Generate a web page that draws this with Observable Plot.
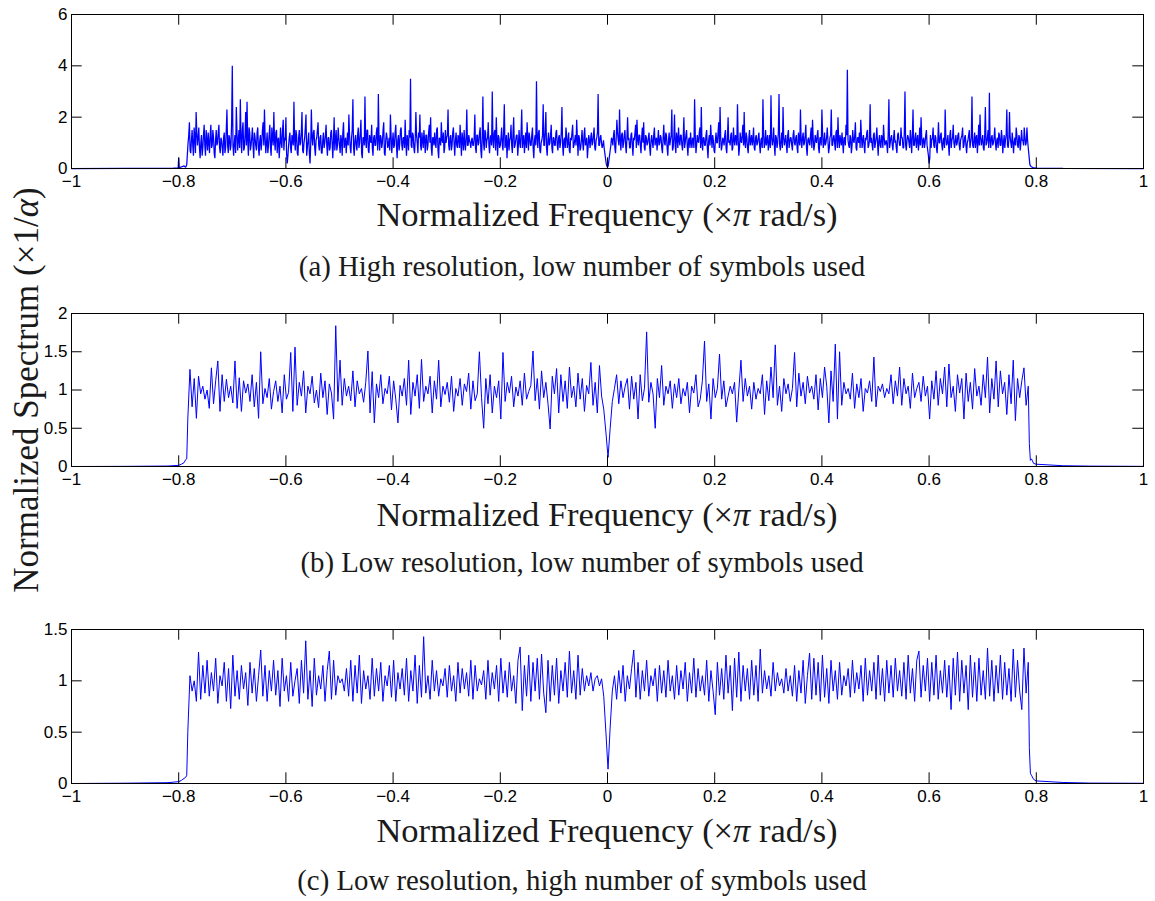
<!DOCTYPE html>
<html>
<head>
<meta charset="utf-8">
<script src="https://cdn.jsdelivr.net/npm/d3@7"></script>
<script src="https://cdn.jsdelivr.net/npm/@observablehq/plot@0.6"></script>
<style>
  html, body { margin: 0; padding: 0; background: #fff; }
  #fig { position: relative; width: 1155px; height: 901px; background: #fff; overflow: hidden; }
  .panel { position: absolute; left: 0; }
  #overlay { position: absolute; left: 0; top: 0; pointer-events: none; }
  #overlay text { font-family: "Liberation Serif", "Times New Roman", serif; fill: #1a1a1a; }
</style>
</head>
<body>
<div id="fig"></div>
<script>
// ---------------- data ----------------
const xTicks = [-1, -0.8, -0.6, -0.4, -0.2, 0, 0.2, 0.4, 0.6, 0.8, 1];
const aTicksY = [0, 2, 4, 6];
const bTicksY = [0, 0.5, 1, 1.5, 2];
const cTicksY = [0, 0.5, 1, 1.5];

const xLabel = "Normalized Frequency";
const yLabel = "Normalized Spectrum";
const captions = [
  "(a) High resolution, low number of symbols used",
  "(b) Low resolution, low number of symbols used",
  "(c) Low resolution, high number of symbols used"
];

// (a) high resolution, low number of symbols
const aLowF = [-1, -0.9, -0.81, -0.801, -0.8, -0.799, -0.795, -0.79, -0.787, -0.785];
const aLowV = [0, 0.003, 0.01, 0.02, 0.42, 0.03, 0.06, 0.1, 0.05, 0.15];
const aBandFrom = -0.7825, aBandTo = 0.785;
// samples on the main grid
const aBand = [
1.0,1.8,0.6,1.5,0.5,1.2,2.2,0.9,1.6,0.4,1.3,0.8,1.7,0.5,1.1,1.4,0.6,1.7,0.9,1.2,0.4,1.5,1.0,1.7,0.6,
1.1,0.5,1.4,0.8,2.3,0.6,1.2,0.9,4.0,0.5,1.3,2.4,0.7,1.5,2.7,0.6,1.8,0.8,2.2,2.6,0.5,1.4,0.9,1.6,0.4,
1.2,0.7,1.6,0.5,1.3,1.0,1.8,2.3,0.6,1.4,0.9,1.7,0.5,1.2,2.2,0.7,1.5,1.1,0.4,1.6,0.8,1.9,1.2,2.0,0.2,
0.9,1.4,0.6,1.1,2.6,0.7,1.3,0.5,1.5,1.0,2.2,0.6,1.2,2.1,0.8,1.4,0.2,2.3,0.9,1.5,0.5,1.2,1.8,0.7,1.3,
0.6,1.4,1.0,1.7,0.5,1.2,0.8,1.5,0.4,2.0,1.1,0.7,1.6,0.9,1.3,0.5,1.8,1.0,0.6,1.4,2.1,0.8,1.2,2.7,0.5,
1.3,0.7,1.6,1.0,1.9,0.4,1.2,2.8,0.8,1.5,0.6,1.1,1.7,0.5,1.3,0.9,1.6,2.9,0.7,1.2,1.0,1.8,0.5,1.4,0.8,
1.2,2.1,0.6,1.4,0.9,1.7,0.4,1.3,1.0,1.6,0.7,1.2,1.9,0.5,1.1,1.5,3.5,0.8,1.3,0.6,2.2,1.0,1.4,2.1,0.7,
1.1,1.5,0.6,1.3,0.9,1.7,2.0,0.5,1.2,1.4,0.8,1.6,0.4,1.1,1.8,1.0,0.6,1.5,1.2,2.3,0.7,1.3,0.9,1.6,0.5,
1.4,0.8,1.2,1.7,0.5,1.1,1.5,0.7,2.3,0.9,1.1,0.8,1.2,0.9,2.1,0.6,1.3,1.0,1.6,0.4,2.8,0.7,1.4,1.1,1.8,
0.6,1.3,3.0,0.8,1.5,2.0,0.5,1.2,0.9,1.6,0.7,2.5,1.0,0.4,1.4,1.1,1.7,0.6,2.0,0.9,1.3,0.5,1.5,0.8,2.3,
1.1,0.6,1.4,1.8,0.7,1.2,0.9,1.6,0.4,1.3,3.4,0.8,1.5,0.6,1.1,2.5,0.9,2.2,0.5,1.4,1.0,1.7,0.6,1.2,0.9,
1.5,0.7,1.3,1.0,2.4,0.5,1.2,1.6,0.8,1.4,0.6,1.1,1.7,0.9,1.3,1.9,0.5,1.2,0.8,1.5,0.7,1.6,1.0,0.4,1.3,
0.8,1.4,1.0,1.6,0.7,1.2,2.9,0.9,1.3,0.8,1.1,0.6,0.2,0.05,0.3,0.7,1.2,0.9,1.5,0.6,1.9,1.1,2.3,0.7,1.4,
1.0,1.5,0.6,2.0,1.2,0.8,1.4,0.5,1.1,1.7,1.9,0.9,1.3,0.6,1.6,1.8,0.7,1.2,1.0,1.4,0.5,1.3,0.8,1.6,1.1,
0.7,1.5,1.0,1.2,0.6,1.7,0.9,1.3,0.5,1.4,1.1,2.3,0.8,2.1,0.6,1.2,1.6,0.9,1.3,0.7,2.0,1.0,1.5,0.5,1.2,
1.4,0.8,1.1,2.7,0.6,1.3,1.0,1.6,2.4,0.7,1.2,0.9,1.5,0.4,1.3,1.7,0.8,1.1,0.6,1.4,1.0,1.8,2.4,0.7,1.2,
0.9,1.5,0.6,2.0,1.1,1.3,0.7,1.6,0.9,1.2,2.5,0.5,1.4,1.0,1.7,2.2,0.8,1.2,0.6,1.5,1.1,0.9,1.6,0.7,1.3,
1.0,1.4,0.6,1.2,2.7,0.8,1.5,1.1,0.7,1.3,2.85,0.9,1.6,0.5,1.2,1.0,2.9,0.7,1.4,2.4,0.9,1.3,0.6,1.5,1.0,
1.2,0.7,1.5,0.9,1.3,0.6,1.1,2.3,0.8,1.4,1.0,1.7,0.5,1.2,0.9,1.6,1.9,0.7,1.3,1.0,1.5,0.6,1.2,2.3,0.8,
1.4,1.0,1.6,0.6,1.2,2.3,0.9,1.3,0.7,1.5,2.0,0.8,1.1,1.4,0.6,1.2,1.7,3.85,0.9,1.3,0.6,1.5,1.0,1.8,0.7,
1.2,1.4,1.9,0.8,1.3,0.6,1.1,1.5,0.9,2.5,1.2,0.7,1.4,1.0,1.6,0.5,1.3,0.8,1.2,1.7,0.9,1.1,0.6,2.7,1.0,
1.3,0.7,1.5,1.1,0.6,1.4,0.9,1.6,1.2,0.8,3.0,0.7,1.3,1.0,1.5,0.6,2.3,0.9,1.4,1.1,0.7,1.6,2.0,0.8,1.2,
1.0,1.5,0.7,0.2,1.3,1.1,1.6,0.8,1.2,0.6,1.8,1.0,1.4,0.7,1.2,2.3,0.9,1.3,0.5,1.5,1.1,1.7,0.8,1.3,1.0,
1.4,0.7,1.2,1.6,0.9,1.3,0.6,1.1,1.5,1.0,2.8,0.8,1.4,1.2,0.6,1.7,2.1,0.9,1.3,0.7,2.4,1.0,1.5,2.95,0.8,
1.3,1.0,1.6,0.7,1.2,1.4,0.9,1.5,0.6,1.3,1.1,2.3,0.8,2.2,1.0,1.4,0.6,1.2,1.6,0.9,1.3,0.7,1.5,1.1,1.6,
0.9,1.6,0.8
];
// samples half-way between the main grid points
const aMid = [
1.3,0.7,1.1,0.9,1.6,0.6,1.4,1.2,0.8,1.0,0.5,1.3,0.9,1.5,0.7,1.0,1.3,0.8,1.5,0.6,1.1,0.9,1.4,0.8,1.2,
0.8,1.2,0.6,1.5,0.9,1.3,0.7,1.8,0.9,1.0,0.6,1.4,1.1,0.8,1.2,1.5,0.7,1.3,0.9,1.1,1.6,0.7,1.2,0.9,1.4,
0.9,1.4,0.8,1.1,0.7,1.5,0.9,1.2,1.0,0.6,1.3,0.8,1.6,0.9,1.1,1.4,0.6,1.2,0.9,1.0,1.5,0.7,1.1,0.6,0.5,
1.2,0.8,1.3,0.9,1.1,1.5,0.6,1.2,0.9,1.4,0.7,1.0,1.6,0.5,1.1,0.6,0.9,1.2,1.4,0.8,1.1,1.5,0.9,1.2,0.6,
1.1,0.8,1.3,0.9,1.2,0.7,1.4,1.0,1.1,0.7,1.5,0.9,1.2,0.6,1.1,1.4,0.8,1.2,1.0,0.9,1.3,0.6,1.5,0.8,1.1,
0.9,1.3,0.8,1.4,0.6,1.2,0.9,1.1,1.5,0.7,1.3,1.0,0.8,1.2,0.9,1.4,0.7,1.1,1.3,0.8,1.5,0.6,1.1,1.2,0.9,
0.7,1.3,1.0,0.8,1.4,0.9,1.1,0.7,1.5,0.9,1.2,0.8,1.0,1.3,0.7,1.2,0.9,1.4,0.8,1.1,1.3,0.6,1.2,0.9,1.4,
0.8,1.1,1.3,0.7,1.4,1.0,0.8,1.2,0.9,1.0,1.5,0.7,1.2,0.9,1.1,1.4,0.8,1.0,1.3,0.9,1.2,0.7,1.4,1.0,1.1,
0.9,1.3,0.8,1.1,1.4,0.7,1.0,1.2,0.9,1.3,1.0,1.1,0.9,1.2,0.8,1.3,0.9,1.4,0.7,1.2,1.0,1.5,0.8,1.2,0.9,
1.2,0.9,1.1,1.4,0.7,1.1,1.3,0.8,1.2,0.9,1.5,0.8,1.3,1.0,0.7,1.2,0.9,1.4,0.8,1.1,1.3,0.9,1.0,1.4,0.8,
1.3,1.0,0.8,1.2,1.4,0.9,1.3,0.8,1.1,0.9,1.2,1.4,0.7,1.0,1.3,0.9,1.5,0.8,1.1,0.9,1.3,0.8,1.2,0.9,1.4,
0.9,1.2,0.8,1.4,0.9,1.1,0.8,1.3,1.0,0.7,1.2,1.4,0.8,1.1,0.9,1.2,1.3,0.7,1.1,1.0,1.3,0.9,1.2,0.8,1.1,
1.2,0.9,1.3,0.8,1.1,1.4,0.9,1.2,1.0,0.9,0.8,0.4,0.1,0.1,0.5,0.9,1.1,1.3,0.8,1.2,1.4,0.9,1.1,1.3,0.8,
1.3,0.9,1.2,1.1,0.8,1.3,0.9,1.2,1.4,0.8,1.1,1.3,0.9,1.2,1.0,0.8,1.3,0.9,1.2,0.8,1.1,1.0,1.3,0.9,1.2,
1.1,0.9,1.3,0.8,1.2,1.0,1.4,0.8,1.1,0.9,1.3,0.7,1.2,0.9,1.4,0.8,1.1,1.3,0.9,1.2,0.8,1.3,0.9,1.1,0.8,
1.0,1.2,0.8,1.3,0.9,1.1,1.4,0.8,1.0,1.2,0.9,1.3,0.8,1.1,0.9,1.2,1.3,0.7,1.1,1.0,1.4,0.8,1.2,0.9,1.1,
1.3,0.8,1.2,1.0,0.9,1.4,0.8,1.1,1.3,0.9,1.2,0.8,1.1,1.3,0.9,1.0,1.4,0.8,1.2,0.9,1.3,1.1,0.8,1.2,0.9,
1.2,0.9,1.1,0.8,1.3,1.0,0.9,1.3,1.0,0.8,1.2,1.1,0.9,1.3,0.8,1.4,0.9,1.1,0.8,1.2,1.1,0.9,1.3,0.8,1.2,
0.9,1.3,1.0,1.2,0.8,1.4,0.9,1.1,1.2,0.9,1.3,0.8,1.1,1.0,1.3,0.8,1.2,0.9,1.1,1.3,0.8,1.2,0.9,1.4,1.0,
0.9,1.2,1.1,0.8,1.3,0.9,1.2,1.0,1.4,0.8,1.1,1.3,0.9,1.0,1.2,0.9,1.3,1.1,0.8,1.2,0.9,1.1,1.3,0.8,1.2,
1.0,0.8,1.3,1.1,0.9,1.2,1.4,0.8,1.1,1.0,0.9,1.3,0.8,1.2,1.0,1.1,0.9,1.3,0.8,1.2,1.0,0.9,1.4,0.8,1.2,
0.9,1.2,1.0,0.8,1.3,1.1,0.9,1.2,0.8,1.4,0.9,1.1,1.2,0.8,1.1,1.3,0.9,1.2,0.8,1.3,1.0,0.9,1.2,1.1,0.8,
1.3,0.9,0.5,0.4,0.8,1.2,0.9,1.3,0.8,1.1,1.0,1.3,0.9,1.1,0.8,1.2,1.0,0.9,1.3,0.8,1.2,1.0,1.1,0.9,1.3,
0.9,1.1,1.3,0.8,1.2,0.9,1.0,1.3,0.8,1.2,0.9,1.1,0.8,1.3,1.0,0.9,1.2,1.1,0.8,1.3,0.9,1.2,0.8,1.1,1.2,
0.9,1.2,1.0,1.1,0.8,1.3,0.9,1.2,1.0,0.8,1.3,0.9,1.1,1.2,0.8,1.1,1.0,0.9,1.3,0.8,1.2,1.0,1.1,0.9,1.2,
1.0,1.1
];
const aHighF = [0.788, 0.79, 0.795, 0.8, 0.85, 1];
const aHighV = [0.15, 0.08, 0.02, 0.01, 0.003, 0];

// (b) low resolution, low number of symbols
const bLowF = [-1, -0.9, -0.82, -0.8, -0.795, -0.79, -0.787, -0.785, -0.783];
const bLowV = [0, 0.002, 0.006, 0.015, 0.03, 0.05, 0.09, 0.1, 0.62];
const bBandFrom = -0.779, bBandTo = 0.785;
const bBand = [
1.27,0.78,1.15,0.63,1.18,0.95,1.05,0.88,1.0,0.76,1.29,0.82,1.12,1.38,0.72,1.2,0.85,1.14,0.9,1.05,
0.83,1.38,0.76,1.16,0.72,1.12,0.96,1.08,0.85,1.2,0.78,1.1,0.63,1.5,0.82,1.02,0.9,1.15,0.75,0.98,
1.12,0.85,1.05,0.7,1.2,0.88,0.97,1.49,0.72,1.56,0.8,1.1,0.92,1.25,0.7,1.05,0.95,1.18,0.83,1.0,
0.77,1.22,0.9,1.12,0.68,1.08,0.96,0.62,1.84,0.85,1.39,0.8,1.15,0.92,1.05,0.86,1.25,0.78,1.12,0.95,
1.02,0.84,1.1,1.51,0.7,1.24,0.57,1.08,0.9,1.2,0.82,1.02,0.95,1.18,0.74,1.12,0.88,0.57,1.06,0.92,
1.15,0.8,1.39,0.68,1.1,0.92,1.2,0.76,1.4,0.85,1.05,0.95,1.18,0.7,1.12,0.88,1.39,0.78,1.05,0.94,
1.1,0.84,1.18,0.72,1.02,0.92,1.15,0.8,1.08,0.98,1.22,0.75,1.12,0.86,0.95,1.5,0.9,0.5,1.15,0.82,
1.2,0.7,1.05,0.9,1.12,0.62,1.49,0.85,1.1,0.96,1.18,0.78,1.04,0.92,1.12,0.8,1.22,0.88,0.98,1.06,
1.51,0.86,1.15,0.75,1.25,0.9,1.1,0.82,0.49,1.18,0.95,1.28,0.7,1.2,0.85,1.12,0.76,1.3,0.9,1.05,
0.78,1.22,0.88,1.15,0.72,1.06,0.95,1.36,0.8,1.1,0.7,1.32,0.92,0.75,0.45,0.12,0.5,0.85,1.02,1.2,
0.82,1.12,0.9,1.05,1.15,0.75,1.18,0.88,1.1,0.62,1.2,0.86,1.02,1.76,0.84,1.1,0.95,0.5,1.15,0.9,
1.32,0.8,1.05,0.95,1.12,0.76,1.08,0.9,1.15,0.82,1.02,0.92,1.1,0.7,1.05,0.96,1.2,0.78,0.88,1.12,
1.64,0.85,1.08,0.62,1.15,0.9,1.02,1.47,0.88,1.12,0.78,0.92,1.05,0.95,1.1,0.58,1.0,1.39,0.85,1.15,
0.92,1.05,0.75,1.1,0.88,1.02,0.95,1.2,0.68,1.12,0.86,1.3,0.9,1.59,0.8,1.05,0.72,1.15,0.95,1.08,
0.85,1.02,1.49,0.78,1.22,0.92,1.1,0.82,1.18,0.96,1.05,0.88,1.2,0.74,1.15,0.9,1.3,1.05,0.57,1.25,
0.85,1.6,0.62,1.5,0.8,1.1,0.95,1.02,0.88,1.22,0.76,1.08,0.9,1.15,0.72,1.02,0.96,1.12,0.85,1.43,
0.78,1.05,0.98,1.08,0.9,1.02,0.95,1.2,0.82,1.12,0.92,1.3,0.8,1.15,0.95,1.05,0.76,1.22,0.9,1.02,
1.1,0.85,1.18,0.92,1.05,0.62,1.12,0.88,1.25,0.8,1.15,0.95,1.3,0.78,1.34,0.9,1.05,0.72,1.2,0.96,
1.15,0.62,1.22,0.85,1.1,0.75,1.28,0.92,1.05,0.8,1.2,0.9,1.43,0.7,1.15,0.88,1.38,0.78,1.25,0.95,
1.1,0.68,1.2,0.82,1.39,0.6,1.15,0.9,1.12,1.29,0.8,1.05
];
const bHighF = [0.787, 0.789, 0.791, 0.795, 0.8, 0.85, 0.9, 1];
const bHighV = [0.3, 0.08, 0.1, 0.04, 0.03, 0.01, 0.005, 0.002];

// (c) low resolution, high number of symbols
const cLowF = [-1, -0.9, -0.82, -0.8, -0.795, -0.79, -0.787, -0.785, -0.783];
const cLowV = [0, 0.003, 0.008, 0.018, 0.03, 0.05, 0.06, 0.08, 0.5];
const cBandFrom = -0.779, cBandTo = 0.785;
const cBand = [
1.05,0.9,1.0,0.8,1.28,0.82,1.15,0.88,1.2,0.85,1.08,0.9,1.22,0.78,1.05,0.95,1.18,0.8,1.12,0.73,
1.25,0.85,1.1,0.82,1.15,0.92,1.08,0.76,1.18,0.88,1.12,0.8,1.05,1.3,0.85,1.15,0.8,1.1,0.9,1.2,
0.86,1.1,0.75,1.22,0.9,1.05,0.8,1.18,0.85,1.0,1.12,0.78,1.2,0.88,1.39,0.82,1.1,0.75,1.22,0.86,
1.05,0.92,1.15,0.8,1.1,1.29,0.82,1.2,0.86,1.05,0.98,1.02,0.9,1.12,0.85,1.2,0.8,1.15,0.88,1.25,
0.78,1.1,0.92,1.05,0.82,1.22,0.85,1.12,0.9,1.18,0.8,1.05,0.95,1.15,0.84,1.2,0.8,1.08,0.92,1.12,
0.86,1.22,0.8,1.1,0.9,1.25,0.78,1.15,0.84,1.43,0.88,1.05,0.82,1.2,0.9,1.1,0.85,1.02,0.95,1.12,
0.84,1.15,0.9,1.05,0.8,1.18,0.88,1.12,0.92,1.08,0.85,1.2,0.82,1.15,0.9,1.02,0.96,1.1,0.82,1.2,
0.86,1.08,0.92,1.15,0.8,1.22,0.88,1.1,0.84,1.18,0.9,1.05,0.78,1.2,1.33,0.71,1.15,0.85,1.25,0.8,
1.18,0.9,1.22,0.82,1.26,0.88,0.69,1.2,0.8,1.15,0.86,1.22,0.78,1.1,0.9,1.18,0.84,1.29,0.88,1.1,
0.82,1.25,0.86,1.12,0.9,1.05,0.95,1.08,0.9,1.02,1.05,0.95,1.02,0.85,0.5,0.14,0.55,0.9,1.05,0.82,
1.1,0.88,1.15,0.8,1.05,0.92,1.12,1.3,0.84,1.18,0.82,1.1,0.9,1.2,0.85,1.05,0.95,1.12,0.8,1.15,
0.88,1.1,0.84,1.2,0.9,1.05,0.82,1.15,0.86,1.1,0.92,1.18,0.8,1.08,0.88,1.22,0.84,1.12,0.9,1.05,
0.86,1.2,0.8,1.1,0.9,0.67,1.18,0.86,1.12,0.82,1.25,0.88,1.15,0.71,1.22,0.84,1.28,0.8,1.15,0.9,
1.12,0.82,1.2,0.86,1.15,0.8,1.31,0.88,1.1,0.92,1.05,0.85,1.18,0.9,1.08,0.95,1.02,0.88,1.12,0.9,
1.05,0.85,1.15,0.8,1.1,0.88,1.2,0.78,1.05,1.27,0.82,1.22,0.86,1.18,0.8,1.25,0.84,1.12,0.78,1.2,
0.9,1.1,0.82,1.18,0.86,1.05,0.95,1.12,0.84,1.2,0.88,1.08,0.92,1.15,0.8,1.22,0.86,1.1,0.9,1.18,
0.82,1.25,0.86,1.12,0.8,1.2,0.88,1.15,0.84,1.22,0.9,1.1,0.85,1.18,0.82,1.25,0.88,1.12,0.8,1.2,
1.29,0.84,1.15,0.9,1.22,0.8,1.18,0.86,1.25,0.82,1.1,0.88,1.2,0.84,1.15,0.72,1.22,0.86,1.28,0.8,
1.2,0.88,1.15,0.72,1.25,0.84,1.18,0.8,1.22,0.86,1.1,0.82,1.32,0.85,1.2,0.8,1.15,0.88,1.25,0.82,
1.18,0.86,1.12,0.8,1.31,0.84,1.2,0.9,0.72,1.32,0.88,1.18
];
const cHighF = [0.787, 0.789, 0.791, 0.795, 0.8, 0.85, 0.9, 1];
const cHighV = [0.35, 0.1, 0.08, 0.04, 0.025, 0.01, 0.004, 0.002];

// ---------------- build ----------------
function series(lowF, lowV, from, to, band, highF, highV, mid) {
  const out = lowF.map((f, i) => ({f, v: lowV[i]}));
  const n = band.length;
  const step = (to - from) / (n - 1);
  band.forEach((v, i) => {
    out.push({f: from + step * i, v});
    if (mid && i < mid.length) out.push({f: from + step * (i + 0.5), v: mid[i]});
  });
  highF.forEach((f, i) => out.push({f, v: highV[i]}));
  return out;
}

const W = 1155, ML = 71, MR = 12, MT = 14, MB = 30;
const TICK = 10.7;
const innerW = W - ML - MR;
const fmt = d => (d < 0 ? "\u2212" : "") + Math.abs(d);

function panel(data, yDomain, yTicks, plotH, top, lineWidth) {
  const chart = Plot.plot({
    width: W,
    height: MT + plotH + MB,
    marginTop: MT, marginBottom: MB, marginLeft: ML, marginRight: MR,
    style: {fontFamily: "'Liberation Sans', Arial, sans-serif", fontSize: "17px", color: "#000", background: "transparent", overflow: "visible"},
    x: {domain: [-1, 1]},
    y: {domain: yDomain},
    marks: [
      Plot.line(data, {x: "f", y: "v", stroke: "#0000ff", strokeWidth: lineWidth, strokeLinejoin: "miter"}),
      Plot.ruleX(xTicks, {x: d => d, insetTop: plotH - TICK, stroke: "#000"}),
      Plot.ruleX(xTicks, {x: d => d, insetBottom: plotH - TICK, stroke: "#000"}),
      Plot.ruleY(yTicks, {y: d => d, insetRight: innerW - TICK, stroke: "#000"}),
      Plot.ruleY(yTicks, {y: d => d, insetLeft: innerW - TICK, stroke: "#000"}),
      Plot.axisX(xTicks, {tickSize: 0, tickPadding: 6, tickFormat: fmt, label: null}),
      Plot.axisY(yTicks, {tickSize: 0, tickPadding: 4, tickFormat: fmt, label: null}),
      Plot.frame({stroke: "#000", strokeWidth: 1})
    ]
  });
  const div = document.createElement("div");
  div.className = "panel";
  div.style.top = top + "px";
  div.appendChild(chart);
  document.getElementById("fig").appendChild(div);
}

panel(series(aLowF, aLowV, aBandFrom, aBandTo, aBand, aHighF, aHighV, aMid), [0, 6], aTicksY, 154, 0, 1.25);
panel(series(bLowF, bLowV, bBandFrom, bBandTo, bBand, bHighF, bHighV), [0, 2], bTicksY, 153, 299, 1);
panel(series(cLowF, cLowV, cBandFrom, cBandTo, cBand, cHighF, cHighV), [0, 1.5], cTicksY, 154, 615, 1);

// ---------------- text overlay ----------------
const NS = "http://www.w3.org/2000/svg";
const svg = document.createElementNS(NS, "svg");
svg.setAttribute("id", "overlay");
svg.setAttribute("width", W);
svg.setAttribute("height", 901);
document.getElementById("fig").appendChild(svg);

function addText(x, y, size, parts, transform) {
  const t = document.createElementNS(NS, "text");
  t.setAttribute("x", x);
  t.setAttribute("y", y);
  t.setAttribute("text-anchor", "middle");
  t.setAttribute("font-size", size);
  if (transform) t.setAttribute("transform", transform);
  parts.forEach(([s, italic]) => {
    const sp = document.createElementNS(NS, "tspan");
    sp.textContent = s;
    if (italic) sp.setAttribute("font-style", "italic");
    t.appendChild(sp);
  });
  svg.appendChild(t);
}

const xLabelParts = [[xLabel + " (×", false], ["π", true], [" rad/s)", false]];
[226, 526, 842].forEach(y => addText(607, y, 34.5, xLabelParts));
[[276, captions[0]], [572, captions[1]], [890, captions[2]]].forEach(([y, s]) => addText(582, y, 28.8, [[s, false]]));
addText(0, 0, 35, [[yLabel + " (×1/", false], ["α", true], [")", false]], "translate(38,390) rotate(-90)");
</script>
</body>
</html>
